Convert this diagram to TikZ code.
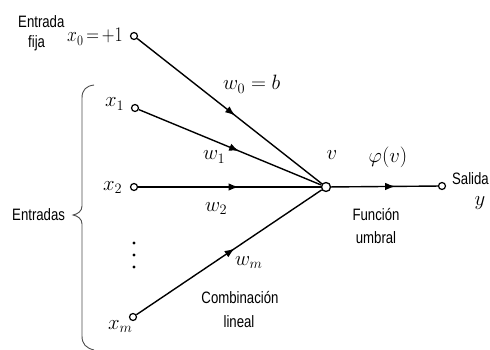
\documentclass[tikz,border=0pt]{standalone}
\usepackage{fontspec}
\usetikzlibrary{arrows.meta,decorations.markings}
\newfontfamily\labfont[FakeStretch=0.8]{Liberation Sans}
\newcommand\sqz[1]{\scalebox{0.85}[1]{#1}}
\tikzset{
  lab/.style={font=\labfont\fontsize{16.5}{18}\selectfont, inner sep=0pt},
  mth/.style={font=\fontsize{21.5}{24}\selectfont, inner sep=0pt},
  io/.style={circle, draw, line width=1.2pt, fill=white, minimum size=7pt, inner sep=0pt},
  sumnode/.style={circle, draw, line width=1.3pt, fill=white, minimum size=9pt, inner sep=0pt},
  wire/.style={line width=1.4pt},
  midarrow/.style={postaction={decorate}, decoration={markings,
      mark=at position #1 with {\arrow{Latex[length=10pt,width=7.5pt]}}}},
}
\begin{document}
\begin{tikzpicture}[x=1pt,y=-1pt]
\useasboundingbox (0,0) rectangle (490,350);
% nodes
\node[io] (x0) at (134,36) {};
\node[io] (x1) at (135,108) {};
\node[io] (x2) at (134,187) {};
\node[io] (xm) at (133,317) {};
\node[sumnode] (v) at (326,187) {};
\node[io] (out) at (442,186) {};
% connectors
\draw[wire, midarrow=0.53] (x0) -- (v);
\draw[wire, midarrow=0.55] (x1) -- (v);
\draw[wire, midarrow=0.55] (x2) -- (v);
\draw[wire, midarrow=0.53] (xm) -- (v);
\draw[wire, midarrow=0.6] (v) -- (out);
% math labels
\node[mth, anchor=base east] (lx0) at (123,42) {\sqz{$x_0\mkern-2mu=\mkern-2mu+1$}};
\node[mth, anchor=base west] (lx1) at (105,107) {$x_1$};
\node[mth, anchor=base west] (lx2) at (103,190) {$x_2$};
\node[mth, anchor=base west] (lxm) at (108,329) {$x_m$};
\node[mth, anchor=base west] (lw0) at (223,90) {$w_0=b$};
\node[mth, anchor=base west] (lw1) at (203,160) {$w_1$};
\node[mth, anchor=base west] (lw2) at (205,211) {$w_2$};
\node[mth, anchor=base west] (lwm) at (235,265) {$w_m$};
\node[mth, anchor=base] (lv) at (332,160) {$v$};
\node[mth, anchor=base] (lphi) at (388,162) {$\varphi(v)$};
\node[mth, anchor=base] (ly) at (480,205) {$y$};
% dots
\fill (134,243) circle (1.6) (134,255) circle (1.6) (134,267) circle (1.6);
% text labels
\node[lab, anchor=base west] (t1) at (18,28) {Entrada};
\node[lab, anchor=base west] (t2) at (28,48) {fija};
\node[lab, anchor=base west] (t3) at (12,220) {Entradas};
\node[lab, anchor=base] (t4) at (240,303) {Combinación};
\node[lab, anchor=base] (t5) at (239,327) {lineal};
\node[lab, anchor=base] (t6) at (376,220) {Función};
\node[lab, anchor=base] (t7) at (376,243) {umbral};
\node[lab, anchor=base east] (t8) at (489,185) {Salida};
% brace
\draw[line width=0.9pt, gray!60!black]
  (94,85) .. controls (86,86) and (82,90) .. (82,98)
  -- (82,206) .. controls (82,211) and (78,214) .. (73,215)
  .. controls (78,216) and (82,219) .. (82,224)
  -- (82,336) .. controls (82,344) and (86,348) .. (94,350);
\end{tikzpicture}
\end{document}
